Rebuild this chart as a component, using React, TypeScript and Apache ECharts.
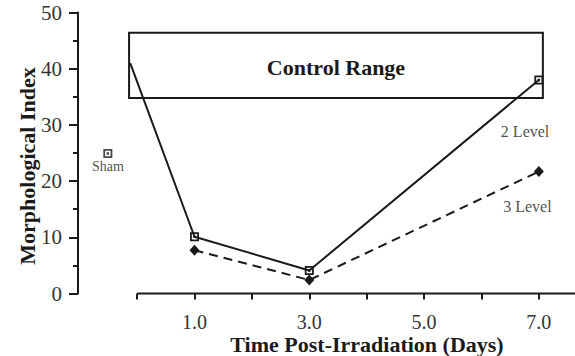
import React, { useEffect, useRef } from 'react';
import * as echarts from 'echarts';

const yTickLabels = ['0', '10', '20', '30', '40', '50'];
const xTickDays = [0, 1, 2, 3, 4, 5, 6, 7];
const xLabelDays = [1, 3, 5, 7];
const xAxisLineDays = [0, 7.63];
const level2Days = [-0.12, 1, 3, 7];
const level2Values = [41.0, 10.1, 4.1, 38.0];
const level3Days = [1, 3, 7];
const level3Values = [7.7, 2.4, 21.7];
const shamDay = [-0.51];
const shamValue = [24.9];
const controlRangeDays = [-0.14, 7.07];
const controlRangeValues = [34.8, 46.4];
const seriesNames = ['2 Level', '3 Level'];
const seriesLabelDays = [6.76, 6.8];
const seriesLabelValues = [28.9, 15.4];

const FONT = "'Liberation Serif', 'Times New Roman', serif";
const INK = '#1a1a1a';
const squareDot = 'path://M0,0H10V10H0Z M2,2V8H8V2Z M3.6,3.6H6.4V6.4H3.6Z';

export default function App() {
  const ref = useRef<HTMLDivElement>(null);
  useEffect(() => {
    if (!ref.current) return;
    const chart = echarts.init(ref.current, null, { renderer: 'svg' });
    chart.setOption({
      animation: false,
      backgroundColor: '#ffffff',
      grid: { left: 78, right: 0, top: 12.5, bottom: 62.5 },
      xAxis: {
        type: 'value',
        min: -1.03,
        max: 7.63,
        axisLine: { show: false },
        axisTick: { show: true, length: 6, customValues: xTickDays, lineStyle: { color: INK, width: 2 } },
        splitLine: { show: false },
        axisLabel: {
          margin: 18,
          lineHeight: 20,
          customValues: xLabelDays,
          fontFamily: FONT,
          fontSize: 20,
          color: '#333',
          formatter: (v: number) => v.toFixed(1),
        },
      },
      yAxis: {
        type: 'value',
        min: 0,
        max: 50,
        interval: 10,
        axisLine: { show: true, onZero: false, lineStyle: { color: INK, width: 2 } },
        axisTick: { show: true, length: 9, lineStyle: { color: INK, width: 2 } },
        minorTick: { show: true, splitNumber: 2, length: 5, lineStyle: { color: INK, width: 2 } },
        splitLine: { show: false },
        minorSplitLine: { show: false },
        axisLabel: {
          margin: 16,
          fontFamily: FONT,
          fontSize: 21,
          color: '#333',
          formatter: (v: number) => (yTickLabels.includes(String(v)) ? String(v) : ''),
        },
      },
      series: [
        {
          name: 'x axis line',
          type: 'line',
          silent: true,
          clip: false,
          symbol: 'none',
          data: xAxisLineDays.map((d) => [d, 0]),
          lineStyle: { color: INK, width: 2 },
          z: 1,
        },
        {
          name: seriesNames[0],
          type: 'line',
          clip: false,
          data: level2Days.map((d, i) => ({
            value: [d, level2Values[i]],
            symbol: i === 0 ? 'none' : squareDot,
          })),
          symbolSize: 9,
          lineStyle: { color: INK, width: 2 },
          itemStyle: { color: INK },
          z: 3,
          markArea: {
            silent: true,
            itemStyle: { color: 'rgba(0,0,0,0)', borderColor: INK, borderWidth: 2 },
            label: {
              show: true,
              position: 'inside',
              fontFamily: FONT,
              fontWeight: 'bold',
              fontSize: 22,
              color: INK,
              offset: [0, 2],
            },
            data: [
              [
                { name: 'Control Range', coord: [controlRangeDays[0], controlRangeValues[1]] },
                { coord: [controlRangeDays[1], controlRangeValues[0]] },
              ],
            ],
          },
        },
        {
          name: seriesNames[1],
          type: 'line',
          clip: false,
          data: level3Days.map((d, i) => [d, level3Values[i]]),
          symbol: 'diamond',
          symbolSize: [10, 11],
          lineStyle: { color: INK, width: 2, type: [9, 6] },
          itemStyle: { color: INK },
          z: 2,
        },
        {
          name: 'Sham',
          type: 'scatter',
          clip: false,
          data: shamDay.map((d, i) => [d, shamValue[i]]),
          symbol: squareDot,
          symbolSize: 9,
          itemStyle: { color: INK },
          label: {
            show: true,
            position: 'bottom',
            distance: 1,
            formatter: 'Sham',
            fontFamily: FONT,
            fontSize: 14,
            color: '#222',
          },
        },
        {
          name: 'labels',
          type: 'scatter',
          clip: false,
          symbolSize: 0,
          data: seriesNames.map((n, i) => ({ name: n, value: [seriesLabelDays[i], seriesLabelValues[i]] })),
          label: {
            show: true,
            position: 'inside',
            formatter: '{b}',
            fontFamily: FONT,
            fontSize: 16,
            color: '#222',
          },
        },
      ],
      graphic: [
        {
          type: 'text',
          x: 27,
          y: 166,
          rotation: Math.PI / 2,
          style: {
            text: 'Morphological Index',
            fontFamily: FONT,
            fontWeight: 'bold',
            fontSize: 22,
            fill: INK,
            align: 'center',
            verticalAlign: 'middle',
          },
        },
        {
          type: 'text',
          x: 367,
          y: 344.5,
          style: {
            text: 'Time Post-Irradiation (Days)',
            fontFamily: FONT,
            fontWeight: 'bold',
            fontSize: 22,
            fill: INK,
            align: 'center',
            verticalAlign: 'middle',
          },
        },
      ],
    });
    return () => chart.dispose();
  }, []);
  return (
    <div
      ref={ref}
      style={{ position: 'fixed', left: 0, top: 0, width: 575, height: 356 }}
    />
  );
}
